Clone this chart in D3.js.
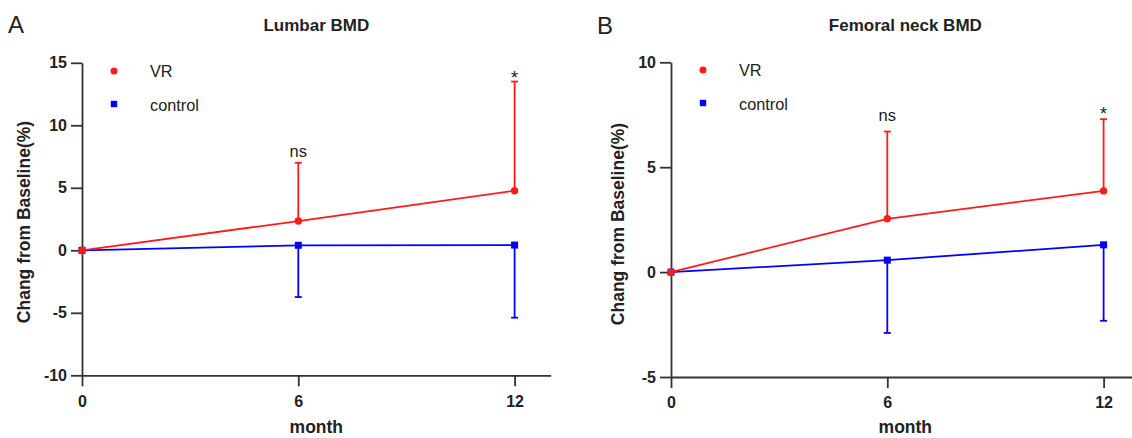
<!DOCTYPE html>
<html lang="en" style="width:100%;height:100%;margin:0;padding:0;">
<head>
    <meta charset="UTF-8">
    <title>Lumbar and femoral neck BMD</title>
    <script type='text/javascript' src="https://d3js.org/d3.v7.min.js"></script>
    <style>
        body { margin: 0; padding: 0; background: #fff; }
        text { font-family: "Liberation Sans", Arial, sans-serif; }
    </style>
    <script>
        // months on the x axis
        let months = [0, 6, 12];
        let xTicks = [0, 6, 12];

        // Lumbar BMD, change from baseline (%)
        let lumbarVR = [0, 2.34, 4.77];
        let lumbarVRSd = [0, 4.66, 8.73];
        let lumbarControl = [0, 0.40, 0.42];
        let lumbarControlSd = [0, 4.14, 5.81];
        let lumbarTicks = [-10, -5, 0, 5, 10, 15];
        let lumbarNotes = [{month: 6, text: "ns", y: 7.45}, {month: 12, text: "*", y: 13.33}];

        // Femoral neck BMD, change from baseline (%)
        let femoralVR = [0, 2.54, 3.87];
        let femoralVRSd = [0, 4.16, 3.42];
        let femoralControl = [0, 0.57, 1.30];
        let femoralControlSd = [0, 3.47, 3.62];
        let femoralTicks = [-5, 0, 5, 10];
        let femoralNotes = [{month: 6, text: "ns", y: 7.18}, {month: 12, text: "*", y: 7.23}];

        let red = "#ff1a1a";
        let blue = "#0000ff";
        let ink = "#222";

        function drawPanel(svg, opt) {
            let g = svg.append("g");

            let x = d3.scaleLinear().domain([0, 13]).range([opt.left, opt.left + 13 * 36.05]);
            let y = d3.scaleLinear().domain(opt.yDomain).range([opt.bottom, opt.top]);

            // letter + title
            g.append("text")
                .attr("x", opt.left - 74).attr("y", opt.letterY)
                .style("font-size", "24px").style("fill", ink)
                .text(opt.letter);
            g.append("text")
                .attr("x", x(6.5)).attr("y", 31)
                .attr("text-anchor", "middle")
                .style("font-size", "17px").style("font-weight", "bold").style("fill", ink)
                .text(opt.title);

            // axes (plain hyphen for negatives, like the original)
            let fmt = function(d) { return String(d); };
            let yAxis = g.append("g")
                .attr("transform", "translate(" + opt.left + ",0)")
                .call(d3.axisLeft(y).tickValues(opt.yTicks).tickFormat(fmt).tickSize(11).tickSizeOuter(0).tickPadding(4));
            let xAxis = g.append("g")
                .attr("transform", "translate(0," + opt.bottom + ")")
                .call(d3.axisBottom(x).tickValues(xTicks).tickFormat(fmt).tickSize(11).tickSizeOuter(0).tickPadding(9));
            [yAxis, xAxis].forEach(function(a) {
                a.selectAll("path, line").style("stroke", "#333").style("stroke-width", 1.8);
                a.selectAll("text")
                    .style("font-size", "16px").style("font-weight", "bold").style("fill", ink)
                    .style("font-family", "'Liberation Sans', Arial, sans-serif");
            });

            // axis titles
            g.append("text")
                .attr("transform", "translate(" + (opt.left - opt.yTitleOffset) + "," + opt.yTitleMid + ") rotate(-90)")
                .attr("text-anchor", "middle")
                .style("font-size", "17.5px").style("font-weight", "bold").style("fill", ink)
                .text("Chang from Baseline(%)");
            g.append("text")
                .attr("x", x(6.5)).attr("y", 433)
                .attr("text-anchor", "middle")
                .style("font-size", "17.5px").style("font-weight", "bold").style("fill", ink)
                .text("month");

            // error bars: VR goes up, control goes down
            let bars = [
                {vals: opt.vr, sd: opt.vrSd, dir: 1, color: red},
                {vals: opt.control, sd: opt.controlSd, dir: -1, color: blue}
            ];
            bars.forEach(function(s) {
                months.forEach(function(m, i) {
                    if (s.sd[i] === 0) return;
                    let end = y(s.vals[i] + s.dir * s.sd[i]);
                    g.append("line")
                        .attr("x1", x(m)).attr("x2", x(m))
                        .attr("y1", y(s.vals[i])).attr("y2", end)
                        .style("stroke", s.color).style("stroke-width", 1.8);
                    g.append("line")
                        .attr("x1", x(m) - 3.5).attr("x2", x(m) + 3.5)
                        .attr("y1", end).attr("y2", end)
                        .style("stroke", s.color).style("stroke-width", 1.8);
                });
            });

            let line = d3.line()
                .x(function(d) { return x(d[0]); })
                .y(function(d) { return y(d[1]); });

            // control line + squares
            g.append("path")
                .datum(d3.zip(months, opt.control))
                .attr("d", line)
                .style("fill", "none").style("stroke", blue).style("stroke-width", 1.8);
            g.selectAll("rect.ctrl")
                .data(d3.zip(months, opt.control))
                .enter().append("rect")
                .attr("class", "ctrl")
                .attr("x", function(d) { return x(d[0]) - 3.5; })
                .attr("y", function(d) { return y(d[1]) - 3.5; })
                .attr("width", 7).attr("height", 7)
                .style("fill", blue);

            // VR line + circles
            g.append("path")
                .datum(d3.zip(months, opt.vr))
                .attr("d", line)
                .style("fill", "none").style("stroke", red).style("stroke-width", 1.8);
            g.selectAll("circle.vr")
                .data(d3.zip(months, opt.vr))
                .enter().append("circle")
                .attr("class", "vr")
                .attr("cx", function(d) { return x(d[0]); })
                .attr("cy", function(d) { return y(d[1]); })
                .attr("r", 3.7)
                .style("fill", red);

            // significance marks
            g.selectAll("text.note")
                .data(opt.notes)
                .enter().append("text")
                .attr("class", "note")
                .attr("x", function(d) { return x(d.month); })
                .attr("y", function(d) { return y(d.y); })
                .attr("text-anchor", "middle")
                .style("font-size", function(d) { return d.text === "*" ? "18px" : "16.5px"; })
                .style("fill", ink)
                .text(function(d) { return d.text; });

            // legend
            let lx = opt.left + 32;
            g.append("circle")
                .attr("cx", lx).attr("cy", opt.legendY)
                .attr("r", 3.5).style("fill", red);
            g.append("rect")
                .attr("x", lx - 3.2).attr("y", opt.legendY + 33 - 3.2)
                .attr("width", 6.4).attr("height", 6.4).style("fill", blue);
            g.append("text")
                .attr("x", lx + 36).attr("y", opt.legendY + 6)
                .style("font-size", "16.3px").style("fill", ink)
                .text("VR");
            g.append("text")
                .attr("x", lx + 36).attr("y", opt.legendY + 39.5)
                .style("font-size", "16.3px").style("fill", ink)
                .text("control");
        }

        function doIt() {
            let svg = d3.select("#chart");

            drawPanel(svg, {
                letter: "A", letterY: 33, title: "Lumbar BMD",
                left: 82, top: 62.8, bottom: 375.3, yDomain: [-10, 15], yTicks: lumbarTicks,
                vr: lumbarVR, vrSd: lumbarVRSd, control: lumbarControl, controlSd: lumbarControlSd,
                notes: lumbarNotes, legendY: 71, yTitleOffset: 52, yTitleMid: 222
            });

            drawPanel(svg, {
                letter: "B", letterY: 34, title: "Femoral neck BMD",
                left: 671, top: 62.3, bottom: 377, yDomain: [-5, 10], yTicks: femoralTicks,
                vr: femoralVR, vrSd: femoralVRSd, control: femoralControl, controlSd: femoralControlSd,
                notes: femoralNotes, legendY: 70, yTitleOffset: 47, yTitleMid: 224
            });
        }
    </script>
</head>
<body onload="doIt()">
    <svg id="chart" width="1132" height="438"></svg>
</body>
</html>
